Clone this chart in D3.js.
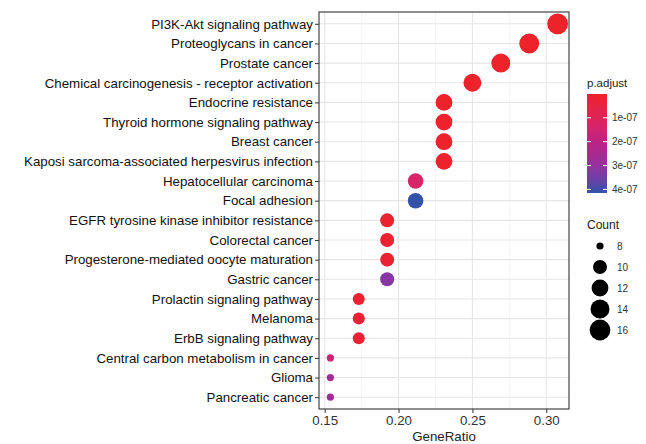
<!DOCTYPE html>
<html><head><meta charset="utf-8">
<script src="https://cdn.jsdelivr.net/npm/d3@7"></script>
<style>body{margin:0;background:#fff}svg{display:block;font-family:"Liberation Sans",Arial,sans-serif}</style>
</head><body><svg id="c" width="646" height="444"></svg>
<script>
const categories = ["PI3K-Akt signaling pathway","Proteoglycans in cancer","Prostate cancer","Chemical carcinogenesis - receptor activation","Endocrine resistance","Thyroid hormone signaling pathway","Breast cancer","Kaposi sarcoma-associated herpesvirus infection","Hepatocellular carcinoma","Focal adhesion","EGFR tyrosine kinase inhibitor resistance","Colorectal cancer","Progesterone-mediated oocyte maturation","Gastric cancer","Prolactin signaling pathway","Melanoma","ErbB signaling pathway","Central carbon metabolism in cancer","Glioma","Pancreatic cancer"];
const counts = [16,15,14,13,12,12,12,12,11,11,10,10,10,10,9,9,9,8,8,8];
const geneRatio = [16/52,15/52,14/52,13/52,12/52,12/52,12/52,12/52,11/52,11/52,10/52,10/52,10/52,10/52,9/52,9/52,9/52,8/52,8/52,8/52];
const pAdjust = [2e-10,6e-10,1.5e-09,3e-09,5e-09,6e-09,7e-09,8e-09,1.35e-07,4.15e-07,1.2e-08,1.4e-08,1.6e-08,3.2e-07,2e-08,2.2e-08,2.4e-08,1.65e-07,2.6e-07,2.65e-07];
const xTicks = [0.15,0.20,0.25,0.30];
const xMinor = [0.175,0.225,0.275];
const pTicks = [1e-07,2e-07,3e-07,4e-07];
const pTickLabels = ["1e-07","2e-07","3e-07","4e-07"];
const countTicks = [8,10,12,14,16];
const paletteStops = [0,0.33,0.5,0.7,0.85,1];
const paletteColors = ["#EE2229","#D8246A","#B8238A","#9A2F9E","#7040A8","#3352A8"];

const svg = d3.select("#c");
const P = {l:319, r:569, t:12, b:409};

const gMin = d3.min(geneRatio), gMax = d3.max(geneRatio), gSpan = gMax-gMin;
const x = d3.scaleLinear().domain([gMin-0.05*gSpan, gMax+0.05*gSpan]).range([P.l,P.r]);
const n = categories.length;
const step = (P.b-P.t)/(n-1+1.2);
const y = d3.scalePoint().domain(categories).range([P.t+0.6*step, P.b-0.6*step]);

const pMin = d3.min(pAdjust), pMax = d3.max(pAdjust);
const tScale = d3.scaleLinear().domain([pMin,pMax]).range([0,1]);
const pal = d3.scaleLinear().domain(paletteStops).range(paletteColors).interpolate(d3.interpolateRgb);
const color = p => pal(tScale(p));
const cMin = d3.min(counts), cMax = d3.max(counts);
// ggplot area palette: size = min + sqrt(rescaled value) * (max - min)
const diam = d3.scaleSqrt().domain([0, cMax-cMin]).range([7.2,20.8]);
const r = c => diam(c-cMin)/2;

// panel
svg.append("rect").attr("x",P.l).attr("y",P.t).attr("width",P.r-P.l).attr("height",P.b-P.t).attr("fill","#fff");
svg.append("g").selectAll("line").data(xMinor).join("line")
  .attr("x1",d=>x(d)).attr("x2",d=>x(d)).attr("y1",P.t).attr("y2",P.b)
  .attr("stroke","#EFEFEF").attr("stroke-width",0.6);
svg.append("g").selectAll("line").data(xTicks).join("line")
  .attr("x1",d=>x(d)).attr("x2",d=>x(d)).attr("y1",P.t).attr("y2",P.b)
  .attr("stroke","#E6E6E6").attr("stroke-width",1.1);
svg.append("g").selectAll("line").data(categories).join("line")
  .attr("x1",P.l).attr("x2",P.r).attr("y1",d=>y(d)).attr("y2",d=>y(d))
  .attr("stroke","#E6E6E6").attr("stroke-width",1.1);

// dots
const data = categories.map((c,i)=>({c, g:geneRatio[i], n:counts[i], p:pAdjust[i]}));
svg.append("g").selectAll("circle").data(data).join("circle")
  .attr("cx",d=>x(d.g)).attr("cy",d=>y(d.c)).attr("r",d=>r(d.n)).attr("fill",d=>color(d.p));

svg.append("rect").attr("x",P.l).attr("y",P.t).attr("width",P.r-P.l).attr("height",P.b-P.t)
  .attr("fill","none").attr("stroke","#333").attr("stroke-width",1.1);

// axes
const yAxis = svg.append("g").attr("transform",`translate(${P.l},0)`)
  .call(d3.axisLeft(y).tickSize(4).tickPadding(2));
yAxis.select(".domain").remove();
yAxis.selectAll("line").attr("stroke","#333");
yAxis.selectAll("text").attr("fill","#111").style("font-size","13.3px");

const xAxis = svg.append("g").attr("transform",`translate(0,${P.b})`)
  .call(d3.axisBottom(x).tickValues(xTicks).tickFormat(d3.format(".2f")).tickSize(4).tickPadding(3));
xAxis.select(".domain").remove();
xAxis.selectAll("line").attr("stroke","#333");
xAxis.selectAll("text").attr("fill","#333").style("font-size","13.3px");

svg.append("text").attr("x",(P.l+P.r)/2).attr("y",441).attr("text-anchor","middle")
  .style("font-size","13.3px").attr("fill","#222").text("GeneRatio");

// color legend
const L = {x:587, w:20, t:94, b:193};
svg.append("text").attr("x",L.x).attr("y",87).style("font-size","11.5px").attr("fill","#222").text("p.adjust");
const defs = svg.append("defs");
const grad = defs.append("linearGradient").attr("id","pg").attr("x1",0).attr("x2",0).attr("y1",0).attr("y2",1);
d3.range(0,1.0001,0.05).forEach(t=>{
  grad.append("stop").attr("offset",t).attr("stop-color",pal(t));
});
svg.append("rect").attr("x",L.x).attr("y",L.t).attr("width",L.w).attr("height",L.b-L.t).attr("fill","url(#pg)");
const py = d3.scaleLinear().domain([pMin,pMax]).range([L.t,L.b]);
const lg = svg.append("g");
pTicks.forEach((t,i)=>{
  lg.append("line").attr("x1",L.x).attr("x2",L.x+4).attr("y1",py(t)).attr("y2",py(t)).attr("stroke","#fff").attr("stroke-width",1);
  lg.append("line").attr("x1",L.x+L.w-4).attr("x2",L.x+L.w).attr("y1",py(t)).attr("y2",py(t)).attr("stroke","#fff").attr("stroke-width",1);
  lg.append("text").attr("x",L.x+L.w+5).attr("y",py(t)+3.5).style("font-size","10px").attr("fill","#333").text(pTickLabels[i]);
});

// size legend
svg.append("text").attr("x",L.x).attr("y",229).style("font-size","12px").attr("fill","#222").text("Count");
const sy = d3.scalePoint().domain(countTicks).range([246,330]);
const sg = svg.append("g");
countTicks.forEach(c=>{
  sg.append("circle").attr("cx",600).attr("cy",sy(c)).attr("r",r(c)).attr("fill","#000");
  sg.append("text").attr("x",617).attr("y",sy(c)+3.5).style("font-size","10px").attr("fill","#333").text(c);
});
</script></body></html>
